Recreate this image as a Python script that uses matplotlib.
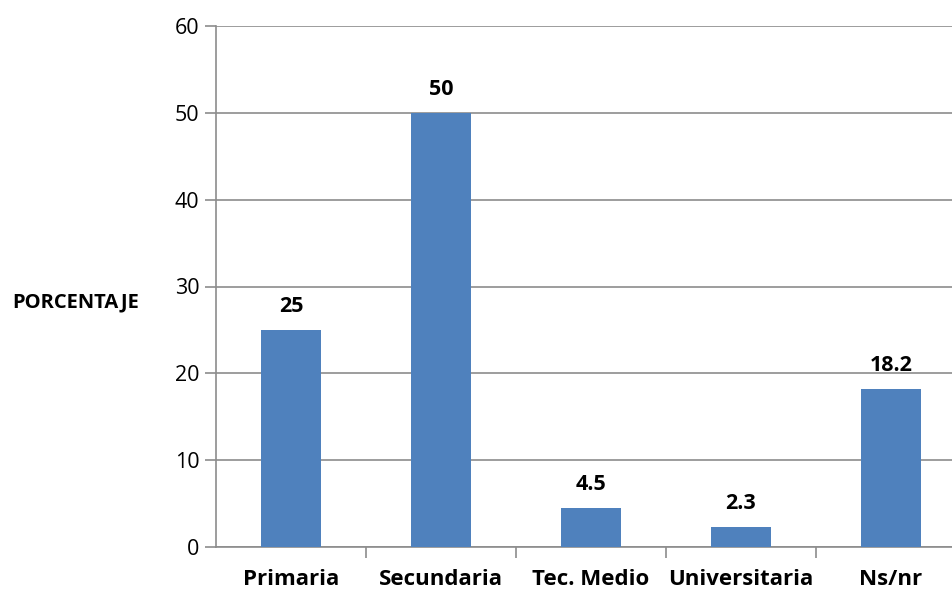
import matplotlib.pyplot as plt
import numpy as np

# ── DATA ────────────────────────────────────────────────
categorias = ['Primaria', 'Secundaria', 'Tec. Medio', 'Universitaria', 'Ns/nr']
porcentajes = [25, 50, 4.5, 2.3, 18.2]
etiquetas = ['25', '50', '4.5', '2.3', '18.2']

plt.rcParams['font.family'] = ['Open Sans', 'DejaVu Sans']
gris = '#8c8c8c'
azul = '#4f81bd'

fig = plt.figure(figsize=(9.53, 5.90), dpi=100)
# the plot area runs a little past the right edge of the figure
ax = fig.add_axes([216 / 953, 43 / 590, 750 / 953, 521 / 590])

x = np.arange(len(categorias))
ax.bar(x, porcentajes, width=0.4, color=azul, zorder=3)

for xi, v, t in zip(x, porcentajes, etiquetas):
    ax.text(xi, v + 2.1, t, ha='center', va='baseline',
            fontsize=15.5, fontweight='bold', color='black')

ax.set_xlim(-0.5, len(categorias) - 0.5)
ax.set_ylim(0, 60)
ax.set_yticks(np.arange(0, 61, 10))
ax.tick_params(axis='y', direction='out', length=8, width=1.2, color=gris,
               labelsize=15.5, pad=4)

# category labels centred, tick marks at the boundaries
ax.set_xticks(x)
ax.set_xticklabels(categorias, fontsize=16, fontweight='bold')
ax.tick_params(axis='x', which='major', length=0, pad=16)
ax.set_xticks(np.arange(0.5, len(categorias) - 0.5), minor=True)
ax.tick_params(axis='x', which='minor', direction='out', length=8,
               width=1.2, color=gris)

ax.grid(axis='y', color=gris, linewidth=1.2, zorder=0)
for s in ['top', 'right']:
    ax.spines[s].set_visible(False)
for s in ['left', 'bottom']:
    ax.spines[s].set_color(gris)
    ax.spines[s].set_linewidth(1.2)

fig.text(12 / 953, 1 - 302 / 590, 'PORCENTAJE', ha='left', va='center',
         fontsize=14.5, fontweight='bold')

fig.savefig('out.png', dpi=100, facecolor='white')
